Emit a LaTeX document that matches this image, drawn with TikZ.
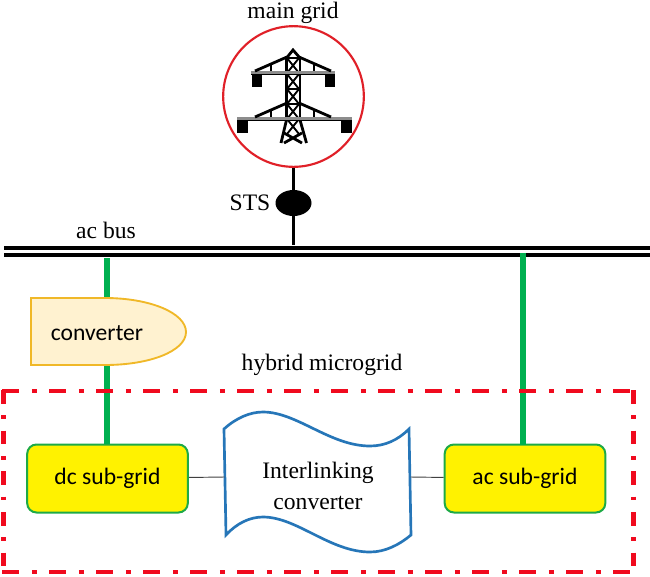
\documentclass[tikz,border=0pt]{standalone}
\usepackage{fontspec}
\setmainfont{Liberation Serif}
\newfontfamily\boxfont{Carlito}
\usepackage{tikz}
\usetikzlibrary{calc,positioning,shapes.geometric,arrows.meta}
\definecolor{gridred}{RGB}{224,32,40}
\definecolor{framered}{RGB}{240,10,30}
\definecolor{linegreen}{RGB}{0,176,80}
\definecolor{edgegreen}{RGB}{30,170,70}
\definecolor{wavblue}{RGB}{38,118,184}
\definecolor{convfill}{RGB}{255,242,208}
\definecolor{convedge}{RGB}{240,184,40}
\tikzset{
  lbl/.style={font=\fontsize{17.7}{20}\selectfont},
  boxlbl/.style={font=\boxfont\fontsize{17.7}{20}\selectfont},
  feeder/.style={linegreen,line width=3.8pt},
  subgrid/.style={draw=edgegreen,line width=1.5pt,fill=yellow,rounded corners=7pt,
    minimum width=120.5pt,minimum height=51pt,boxlbl},
  busline/.style={black,line width=2.3pt},
  tieline/.style={black!75,line width=.7pt},
  towerbar/.style={black,line width=2.1pt},
  frameh/.style={framered,line width=3.6pt,dash pattern=on 12.75pt off 9.6pt on 3.7pt off 9.2pt},
  framev/.style={framered,line width=3.6pt,dash pattern=on 10.3pt off 8.7pt on 2.8pt off 8.7pt}
}
\begin{document}
\begin{tikzpicture}[x=.75pt,y=-.75pt]
\useasboundingbox (0,0) rectangle (650,576);
% bus and labels
\coordinate (busa) at (4,248);
\coordinate (busb) at (650,248);
\coordinate (busc) at (4,255);
\coordinate (busd) at (650,255);
\draw[busline] (busa) -- (busb);
\draw[busline] (busc) -- (busd);
\node[lbl] (mainlbl) at (293,13) {main grid};
\node[lbl] (buslbl) at (106,230) {ac bus};
\node[lbl] (hybridlbl) at (322,365) {hybrid microgrid};
\node[lbl] (stslbl) at (250,203) {STS};
% grid circle and switch
\node[circle,draw=gridred,line width=1.6pt,minimum size=105.5pt,inner sep=0pt] (maingrid) at (293.5,96.5) {};
\node[ellipse,fill=black,minimum width=27pt,minimum height=19.5pt,inner sep=0pt] (sts) at (293.5,203) {};
\coordinate (stsbus) at (293.5,245);
\draw[line width=2.6pt] (maingrid.south) -- (stsbus);
% tower
\draw[towerbar] (286.5,58) -- (293,50) -- (300,58);
\draw[towerbar] (286.5,58) -- (286.5,120) (300,58) -- (300,120);
\draw[towerbar] (286.5,120) -- (281,143) (300,120) -- (306.5,143);
\foreach \y in {58,74,89,104,119} {
  \draw[towerbar,line width=1.4pt] (287,\y) -- (299,\y+15) (299,\y) -- (287,\y+15);
  \draw[towerbar,line width=1.4pt] (287,\y) -- (299,\y);
}
\draw[towerbar] (284,133) -- (302,143) (302,133) -- (284,143);
\draw[black!45,line width=2.8pt] (251,72.5) -- (335,72.5);
\draw[black,line width=1.1pt] (251,74.5) -- (335,74.5);
\draw[black!45,line width=2.8pt] (237,118.5) -- (352,118.5);
\draw[black,line width=1.1pt] (237,120.5) -- (352,120.5);
\draw[towerbar] (255,71) -- (287,57) (331,71) -- (299,57);
\draw[towerbar] (255,117) -- (287,103) (331,117) -- (299,103);
\foreach \x in {271,314} {
  \draw[towerbar,line width=1.2pt] (\x,64) -- (\x,71);
  \draw[towerbar,line width=1.2pt] (\x,110) -- (\x,117);
}
\fill (252,75) rectangle (262,87);
\fill (325,75) rectangle (335,87);
\fill (237,121) rectangle (248,133);
\fill (341,121) rectangle (352,133);
% sub-grids and feeders
\node[subgrid] (dcgrid) at (107.5,478.5) {\raisebox{2pt}{dc sub-grid}};
\node[subgrid] (acgrid) at (525,478.5) {\raisebox{2pt}{ac sub-grid}};
\coordinate (dcbus) at (107,258);
\coordinate (acbus) at (523,253);
\coordinate (actop) at (523,445);
\draw[feeder] (dcbus) -- (dcgrid.north -| dcbus);
\draw[feeder] (acbus) -- (actop);
% converter
\draw[convedge,fill=convfill,line width=1.4pt] (31,298) -- (105,298)
  .. controls (150,298) and (186,313) .. (186,332)
  .. controls (186,351) and (150,365) .. (105,365) -- (31,365) -- cycle;
\node[boxlbl] (conv) at (97,333) {converter};
% microgrid frame
\draw[frameh] (2,391) -- (632,391);
\draw[frameh] (2,572) -- (632,572);
\draw[framev] (3.7,390) -- (3.7,570);
\draw[framev] (633.5,390) -- (633.5,570);
% interlinking converter
\coordinate (ilinkw) at (224.5,477);
\coordinate (ilinke) at (410.5,477);
\draw[wavblue,line width=2pt,fill=white] (224,429)
  .. controls (236,418) and (250,412) .. (263,412)
  .. controls (297,412) and (330,446) .. (370,446)
  .. controls (385,446) and (398,440) .. (409,429)
  -- (411,535)
  .. controls (399,545) and (385,552) .. (370,552)
  .. controls (330,552) and (297,517) .. (263,517)
  .. controls (250,517) and (237,523) .. (226,535) -- cycle;
\node[lbl,align=center,inner sep=0pt] (ilink) at (318,486) {Interlinking\\[3pt]converter};
\draw[tieline] (dcgrid) -- (ilinkw);
\draw[tieline] (ilinke) -- (acgrid);
\end{tikzpicture}
\end{document}
